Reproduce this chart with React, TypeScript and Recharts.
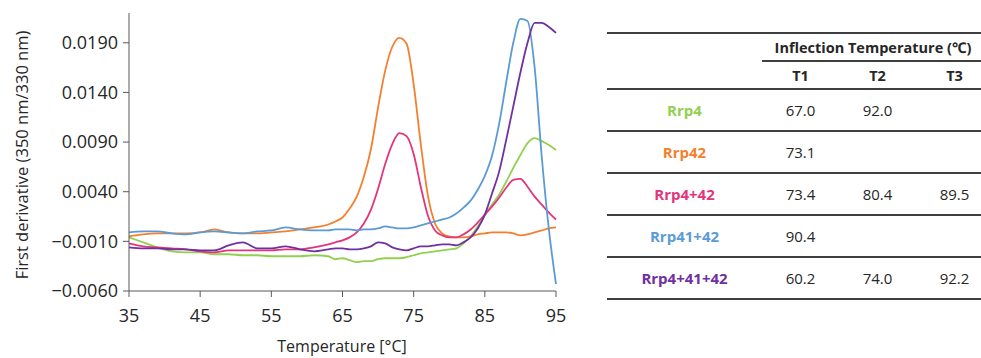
import { LineChart, Line, XAxis, YAxis } from "recharts";

const temps = [
  35, 37, 39, 41, 43, 45, 47, 49, 51, 53, 55, 57, 59, 61, 63,
  64, 65, 66, 67, 68, 69, 70, 71, 72, 73, 74, 75, 76, 77, 78, 79,
  80, 81, 82, 83, 84, 85, 86, 87, 88, 89, 90, 91, 92, 93, 94, 95,
];

const rrp4 = [
  -0.0006, -0.0011, -0.0016, -0.002, -0.0021, -0.0021, -0.0023, -0.0023, -0.0024, -0.0024, -0.0025, -0.0025, -0.0025, -0.0024, -0.0025,
  -0.0028, -0.0027, -0.0029, -0.0031, -0.003, -0.003, -0.0028, -0.0027, -0.0027, -0.0027, -0.0026, -0.0024, -0.0022, -0.0021, -0.002, -0.0019,
  -0.0018, -0.0017, -0.0012, -0.0005, 0.0005, 0.0016, 0.0027, 0.0037, 0.005, 0.0064, 0.0077, 0.0089, 0.0094, 0.0091, 0.0087, 0.0082,
];

const rrp42 = [
  -0.0005, -0.0003, -0.0002, -0.0002, -0.0002, -0.0001, 0.0002, -0.0001, -0.0002, -0.0002, -0.0001, 0.0, 0.0002, 0.0004, 0.0007,
  0.001, 0.0014, 0.0023, 0.0035, 0.0055, 0.0083, 0.0125, 0.0162, 0.0186, 0.0195, 0.0189, 0.0148, 0.0088, 0.0036, 0.0008, -0.0002,
  -0.0005, -0.0006, -0.0006, -0.0005, -0.0003, -0.0002, -0.0001, -0.0001, -0.0001, -0.0002, -0.0004, -0.0003, -0.0001, 0.0001, 0.0003, 0.0004,
];

const rrp4p42 = [
  -0.0012, -0.0015, -0.0016, -0.0017, -0.0018, -0.002, -0.0021, -0.0019, -0.0019, -0.0019, -0.0019, -0.0018, -0.0018, -0.0016, -0.0013,
  -0.0011, -0.0009, -0.0006, -0.0001, 0.0008, 0.0022, 0.0043, 0.0068, 0.0088, 0.0099, 0.0096, 0.0078, 0.0045, 0.0016, 0.0001, -0.0004,
  -0.0006, -0.0006, -0.0003, 0.0002, 0.0009, 0.0017, 0.0025, 0.0034, 0.0044, 0.0052, 0.0053, 0.0045, 0.0035, 0.0027, 0.0019, 0.0012,
];

const rrp41p42 = [
  -0.0001, 0.0, 0.0, -0.0002, -0.0003, -0.0001, 0.0, -0.0001, -0.0002, 0.0, 0.0001, 0.0004, 0.0002, 0.0001, 0.0001,
  0.0002, 0.0002, 0.0002, 0.0001, 0.0002, 0.0002, 0.0003, 0.0005, 0.0004, 0.0003, 0.0003, 0.0004, 0.0006, 0.0008, 0.001, 0.0012,
  0.0014, 0.0018, 0.0024, 0.0031, 0.0042, 0.0056, 0.0076, 0.0108, 0.015, 0.019, 0.0214, 0.0212, 0.0165, 0.0075, 0.0002, -0.0053,
];

const rrp4p41p42 = [
  -0.0016, -0.0017, -0.0017, -0.0018, -0.0018, -0.0019, -0.0019, -0.0014, -0.0011, -0.0017, -0.0017, -0.0015, -0.0018, -0.002, -0.0018,
  -0.0017, -0.0017, -0.0018, -0.0018, -0.0017, -0.0015, -0.0011, -0.0012, -0.0016, -0.0018, -0.0019, -0.0017, -0.0015, -0.0015, -0.0014, -0.0013,
  -0.0013, -0.0014, -0.0011, -0.0006, 0.0003, 0.0017, 0.0038, 0.006, 0.0092, 0.0126, 0.016, 0.019, 0.021, 0.021, 0.0206, 0.02,
];

const xTicks = [35, 45, 55, 65, 75, 85, 95];
const yTicks = [-0.006, -0.001, 0.004, 0.009, 0.014, 0.019];

const sampleNames = ["Rrp4", "Rrp42", "Rrp4+42", "Rrp41+42", "Rrp4+41+42"];
const sampleColors = ["#92d050", "#f4802f", "#e2357c", "#5b9bd5", "#7030a0"];
const inflectionT1 = ["67.0", "73.1", "73.4", "90.4", "60.2"];
const inflectionT2 = ["92.0", "", "80.4", "", "74.0"];
const inflectionT3 = ["", "", "89.5", "", "92.2"];

const seriesKeys = ["rrp4", "rrp42", "rrp4p42", "rrp41p42", "rrp4p41p42"];

const data = temps.map((t, i) => ({
  t,
  rrp4: rrp4[i],
  rrp42: rrp42[i],
  rrp4p42: rrp4p42[i],
  rrp41p42: rrp41p42[i],
  rrp4p41p42: rrp4p41p42[i],
}));

const FONT = "'Open Sans', 'Noto Sans', sans-serif";
const axisColor = "#595959";
const textColor = "#262626";

const fmtY = (v: number) => (v < 0 ? "\u2212" : "") + Math.abs(v).toFixed(4);

const line = "2px solid #3f3f3f";

export default function App() {
  return (
    <div style={{ position: "absolute", left: 0, top: 0, width: 981, height: 358, background: "#fff", fontFamily: FONT }}>
      <LineChart width={600} height={358} data={data} margin={{ top: 13, right: 44, bottom: 0, left: 0 }}>
        <XAxis
          dataKey="t"
          type="number"
          domain={[35, 95]}
          ticks={xTicks}
          height={67}
          tickSize={6}
          tickMargin={12}
          stroke={axisColor}
          tick={{ fontSize: 18, fill: textColor, fontFamily: FONT }}
          label={{
            content: () => (
              <text x={342} y={346} textAnchor="middle" dominantBaseline="central" fontSize={16} fill={textColor} fontFamily={FONT}>
                Temperature [°C]
              </text>
            ),
          }}
        />
        <YAxis
          type="number"
          domain={[-0.006, 0.022]}
          ticks={yTicks}
          width={129}
          tickSize={6}
          tickMargin={5}
          stroke={axisColor}
          tickFormatter={fmtY}
          tick={{ fontSize: 18, fill: textColor, fontFamily: FONT }}
          label={{
            content: () => (
              <text x={21} y={155} transform="rotate(-90 21 155)" textAnchor="middle" dominantBaseline="central" fontSize={16.5} fill={textColor} fontFamily={FONT}>
                First derivative (350 nm/330 nm)
              </text>
            ),
          }}
        />
        {seriesKeys.map((k, i) => (
          <Line key={k} dataKey={k} name={sampleNames[i]} type="monotone" stroke={sampleColors[i]} strokeWidth={1.8} dot={false} isAnimationActive={false} />
        ))}
      </LineChart>

      <div style={{ position: "absolute", left: 607, top: 32, width: 374, overflow: "hidden" }}>
        <table style={{ borderCollapse: "collapse", width: 386, tableLayout: "fixed", fontSize: 15, color: textColor }}>
          <colgroup>
            <col style={{ width: 155 }} />
            <col style={{ width: 77 }} />
            <col style={{ width: 77 }} />
            <col style={{ width: 77 }} />
          </colgroup>
          <thead>
            <tr style={{ borderTop: line, height: 28 }}>
              <th />
              <th colSpan={3} style={{ borderBottom: line, fontWeight: 700, fontSize: 14.5, paddingRight: 10, textAlign: "center" }}>
                Inflection Temperature (℃)
              </th>
            </tr>
            <tr style={{ height: 28, fontSize: 14.5 }}>
              <th />
              <th>T1</th>
              <th>T2</th>
              <th>T3</th>
            </tr>
          </thead>
          <tbody>
            {sampleNames.map((n, i) => (
              <tr key={n} style={{ borderTop: line, borderBottom: i === sampleNames.length - 1 ? line : undefined, height: 42 }}>
                <td style={{ textAlign: "center", fontWeight: 700, color: sampleColors[i] }}>{n}</td>
                <td style={{ textAlign: "center" }}>{inflectionT1[i]}</td>
                <td style={{ textAlign: "center" }}>{inflectionT2[i]}</td>
                <td style={{ textAlign: "center" }}>{inflectionT3[i]}</td>
              </tr>
            ))}
          </tbody>
        </table>
      </div>
    </div>
  );
}
